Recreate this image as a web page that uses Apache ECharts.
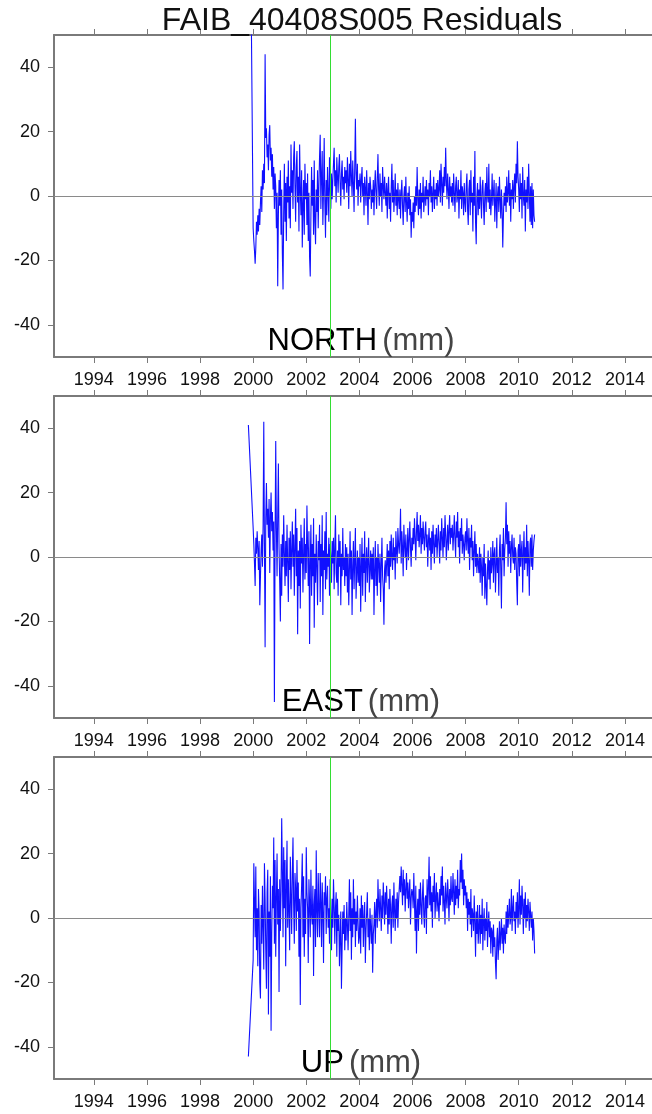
<!DOCTYPE html>
<html>
<head>
<meta charset="utf-8">
<script src="https://cdn.jsdelivr.net/npm/echarts@6/dist/echarts.min.js"></script>
<style>
html,body{margin:0;padding:0;background:#fff;}
#chart{width:652px;height:1114px;}
</style>
</head>
<body>
<div id="chart"></div>
<script>
// ---------------- DATA ----------------
const chartTitle = 'FAIB_40408S005 Residuals';
const panelNames = ['NORTH', 'EAST', 'UP'];
const unitLabel = '(mm)';
const xTickValues = [1994, 1996, 1998, 2000, 2002, 2004, 2006, 2008, 2010, 2012, 2014];
const yTickValues = [-40, -20, 0, 20, 40];
const eventYear = 2002.89;          // green vertical line
const sampleStart = 2000.0;         // regular sampling grid of the residuals
const sampleStep = 0.025;

// first (isolated) observation of each component: [year, mm]
const northFirst = [1999.93, 56];
const eastFirst = [1999.82, 41];
const upFirst = [1999.82, -43];

const northValues = [
  -10, -14, -17, -21, -16, -8, -12, -6, -11, -4, -9, -2, 3, -5, 8, 2, 10, 4, 44, 18,
  21, 12, 16, 8, 19, 22, 11, 15, 6, 13, 2, 9, -4, 7, 3, -10, 1, -28, -6, 5,
  -3, 8, -12, 2, -18, -29, -5, 10, -8, 4, -14, 6, -2, 11, -7, 3, -10, 16, 1, 8,
  -4, 12, 17, 3, -8, 9, 14, -2, 6, -11, 16, 2, -6, 8, -16, -3, 5, -12, 10, -1,
  4, -9, 7, -14, 1, -19, -25, -6, 9, -3, 5, -12, 11, -8, -15, 2, -5, 8, -10, 3,
  12, 19, -4, 6, 14, -9, 2, 18, -2, -13, 5, -6, 9, 1, -8, 12, 3, -4, 7, -1,
  5, 10, 15, 3, 8, -2, 12, 6, 1, 9, 13, 4, -3, 7, 11, 2, 6, -1, 9, 4,
  8, 1, 12, 5, -4, 10, 3, 14, 6, 0, 11, 4, -5, 9, 24, 7, 2, 10, -3, 5,
  3, 7, -2, 5, 9, 0, 4, -6, 6, 2, -3, 8, 1, -9, 4, -1, 6, 3, -4, 2,
  -2, 5, -6, 3, 8, 1, -4, 6, 13, 2, -3, 7, 0, 4, -5, 9, 3, -1, 6, 1,
  -3, 4, -7, 2, 6, -4, 1, -8, 3, 10, -2, 5, -5, 0, 7, -3, 2, -6, 4, -1,
  -4, 2, -7, 1, 5, -3, -9, 0, 3, -5, 6, -2, -8, 1, -4, 3, -6, -1, -13, -5,
  -8, -2, -10, 0, -5, 3, -3, 9, -1, -6, 2, -4, 4, -7, 1, -2, 6, -5, -1, 3,
  -3, 5, -1, 2, -6, 4, 0, 8, -2, 3, -5, 1, 6, -4, 2, -1, 4, -3, 5, 0,
  2, 8, -2, 10, 4, -3, 6, 1, 9, 3, 15, 5, -1, 7, 2, -4, 6, 0, 3, -2,
  4, -3, 7, 1, -5, 3, 6, -2, 0, 5, -7, 2, -1, 8, -4, 3, 1, -6, 4, -2,
  -5, 3, 7, -4, -9, 2, 5, -6, 8, -2, 1, -11, 6, -3, 14, -8, -15, 0, 4, -6,
  2, -4, 6, -1, -7, 3, 5, -3, -9, 1, 4, -5, 9, 0, -2, 10, -4, 2, -6, -1,
  7, -3, 1, 5, -8, -2, 4, -10, 0, 3, -5, 6, -1, -7, 2, -4, -16, -6, 1, -3,
  3, -5, 6, -2, 1, 8, -3, 4, -8, 2, -1, 5, -4, 3, 7, -2, 10, 4, 17, 6,
  2, -5, 7, -1, 4, -7, 9, 0, -3, 5, -11, 2, -2, 6, -4, 10, 1, -8, 3, -9,
  4, -10, 2, -6, -8
];

const eastValues = [
  9, 4, -2, -9, 6, 1, 8, 3, -4, 5, -15, -6, 2, 7, -3, 10, 42, 4, -28, 12,
  23, 10, 15, 6, 18, -5, 12, 20, 8, 14, 2, 11, -45, 5, 36, 9, -6, 13, 29, 3,
  -8, -20, 4, -12, 7, -3, 13, 1, -9, 5, -6, 10, -2, -14, 6, -4, 8, -10, 2, 11,
  -3, 7, -12, 3, 15, -6, 9, -24, 2, -9, 5, -16, 10, -2, 6, -11, 1, 12, -7, 4,
  -5, 16, 3, -9, 8, -27, -2, 10, -12, 4, -6, 12, -22, 1, -8, 7, -3, -15, 5, -1,
  10, -14, 4, -6, 13, -18, 2, -4, 8, -10, 14, -7, 1, -3, 6, -12, 4, 0, -8, 5,
  -2, 6, -10, 3, 13, -5, -8, 2, -12, 7, -3, 5, -15, 1, -6, 9, -4, 0, -9, 4,
  -6, 3, -11, 1, -15, -4, 8, -7, 2, -18, -3, 5, -10, -1, 9, -13, -5, 2, -8, 0,
  -9, 4, -17, -3, 6, -12, 1, -5, 8, -14, -2, 3, -8, -1, 6, -11, -4, 2, -7, 1,
  -7, 3, -18, -4, 5, -9, 0, -12, 4, -2, -8, 1, -14, -3, 6, -6, -10, -21, -4, -1,
  -8, -2, 4, -6, 2, -10, 5, -3, 7, 0, -4, 6, -1, 3, -7, 8, 2, -2, 9, 4,
  1, 6, 15, -2, 8, 3, -6, 10, 4, 0, 7, -4, 2, 9, -1, 5, 11, 3, -3, 6,
  2, 9, 4, 12, 6, -1, 8, 14, 5, 10, 3, 7, 13, 1, 9, 4, 11, 6, 2, 8,
  11, 3, 7, -3, 5, 9, 2, 6, -4, 8, 1, 10, 4, -2, 7, 3, 9, 0, 5, 10,
  4, -2, 8, 2, 12, 6, 0, 9, 3, 13, 7, -1, 5, 10, 2, 8, 13, 4, 9, 6,
  10, 2, 7, 13, 5, 0, 11, 6, 14, 3, 8, -2, 9, 5, 12, 1, 7, 4, -1, 6,
  8, 2, 12, 5, 1, 9, -4, 6, 3, 10, -1, 5, -6, 2, 8, -3, 4, -5, 1, -2,
  -5, 3, -8, 1, -3, -12, 0, -6, 4, -13, -2, -9, -15, -4, 2, -7, -1, -10, 3, -5,
  -2, 5, -8, 1, 3, -11, -3, 6, -5, 0, -12, 2, 7, -4, -16, 4, -1, 9, -6, 2,
  6, 17, 4, 10, -3, 8, 1, 5, -5, 3, 7, 0, -2, 6, -4, 3, 1, -8, -15, 2,
  4, -6, 7, -3, 2, 5, -11, 1, 8, -4, 3, -2, 10, -6, 5, -1, -12, 4, 6, -3,
  7, -4, 2, 5, 7
];

const upValues = [
  -13, 17, 5, -6, 16, -10, 3, -15, 9, 2, -20, -25, 4, -8, 10, -3, -16, 17, 6, -10,
  -22, 8, 15, -30, 2, -12, 13, -35, -5, 10, 3, 25, -8, 18, -12, 6, 20, -2, 9, -23,
  12, -4, 8, 31, 15, -6, 22, 3, 18, -15, 10, 24, -3, 12, 2, -10, 19, 7, -5, 14,
  25, 4, -8, 14, 9, -4, 18, 2, 11, -12, 6, -27, 3, 10, 20, -6, 13, -12, 6, -5,
  22, 8, 3, -14, 12, 5, -6, 15, 1, -2, 10, -18, 4, 9, -9, 21, 2, -6, 14, 3,
  -6, 14, 5, -9, 11, 2, -14, 8, 4, 13, -5, 6, 10, -3, 3, -8, 12, 0, -10, 6,
  -3, 12, 4, -8, 3, 8, -12, 6, -4, 1, -15, -6, 2, -22, -9, 2, -5, 4, -10, 0,
  -7, 5, -2, -10, 1, 12, -4, 8, -13, 3, -6, 12, -2, 6, -9, 2, -4, 7, -1, -8,
  -6, 3, -11, 7, -3, 4, -9, 0, 5, -14, -4, 2, 8, -6, 0, -10, 3, -3, -8, 1,
  -17, -5, -2, 5, -8, 2, 6, -3, 12, 4, -1, 9, 3, -4, 7, 0, 11, 5, -2, 8,
  1, 10, 4, -5, 6, -2, 9, 3, -8, 4, 7, -3, 11, 2, -4, 6, 0, 8, -3, 5,
  5, 13, 8, 16, 10, 4, 15, 7, 12, 2, 9, 14, 6, 11, 3, 8, 12, -2, 6, 9,
  8, 3, 14, 5, -4, 10, -11, 2, 6, -4, 9, 1, 11, 4, -2, 7, 12, 1, -3, 6,
  7, -5, 12, 3, 9, 19, 4, 13, 2, 8, -3, 10, 5, 14, 0, 6, 11, 2, 8, 4,
  -1, 9, 4, 13, 7, 16, 2, 10, 5, -2, 11, 6, 3, 12, 7, -1, 9, 4, 13, 6,
  5, 14, 8, 1, 12, 4, 10, 6, 15, 3, 9, 7, 18, 11, 20, 9, 15, 4, 12, 7,
  10, 3, 8, -4, 6, 1, 5, -2, 9, -6, 3, 1, -4, 7, -1, -12, 2, -5, 4, -8,
  -3, 4, -8, 1, -5, 6, -10, -1, 3, -7, 0, -4, 5, -9, -2, 2, -6, -1, -11, -3,
  -4, -12, -2, -9, -6, -14, -19, -7, -3, -13, -8, -1, -10, -5, 0, -8, -3, -11, -2, -6,
  -8, 2, -5, 4, -3, 1, 6, -2, 0, 9, -4, 3, 7, -1, 2, -5, 5, 0, 8, -3,
  3, 12, -2, 7, 1, 10, 4, -5, 6, 0, 8, -3, 4, -1, 6, 2, -4, 5, 1, -3,
  2, -7, 0, -4, -11
];

// ---------------- BUILD ----------------
function buildSeriesData(first, values) {
  const out = [first.slice()];
  values.forEach(function (v, i) {
    out.push([+(sampleStart + i * sampleStep).toFixed(4), v]);
  });
  return out;
}
const panelData = [
  buildSeriesData(northFirst, northValues),
  buildSeriesData(eastFirst, eastValues),
  buildSeriesData(upFirst, upValues)
];

const FONT = "'Liberation Sans', Arial, Helvetica, sans-serif";
const FRAME = '#7a7a7a';
const panelTops = [35, 396, 757];
const panelHeight = 322;
const gridLeft = 54, gridRight = 0;
const xMin = 1992.5, xMax = 2015.02;

const grids = [], xAxes = [], yAxes = [], series = [], titles = [];

titles.push({
  text: chartTitle,
  left: 357, top: 0, textAlign: 'center',
  textStyle: { fontFamily: FONT, fontSize: 32, fontWeight: 'normal', color: '#111' }
});

panelTops.forEach(function (top, p) {
  grids.push({ left: gridLeft, right: gridRight, top: top, height: panelHeight, containLabel: false });
  xAxes.push({
    type: 'value', gridIndex: p, position: 'bottom', min: xMin, max: xMax,
    axisLine: { show: true, onZero: false, lineStyle: { color: FRAME, width: 2 } },
    axisTick: { show: true, inside: false, length: 6, customValues: xTickValues, lineStyle: { color: FRAME, width: 1 } },
    axisLabel: { show: true, customValues: xTickValues, margin: 14, fontFamily: FONT, fontSize: 18, color: '#111',
      formatter: function (v) { return String(v); } },
    splitLine: { show: false }
  });
  xAxes.push({
    type: 'value', gridIndex: p, position: 'top', min: xMin, max: xMax,
    axisLine: { show: true, onZero: false, lineStyle: { color: FRAME, width: 2 } },
    axisTick: { show: true, inside: false, length: 6, customValues: xTickValues, lineStyle: { color: FRAME, width: 1 } },
    axisLabel: { show: false },
    splitLine: { show: false }
  });
  yAxes.push({
    type: 'value', gridIndex: p, position: 'left', min: -50, max: 50,
    axisLine: { show: true, onZero: false, lineStyle: { color: FRAME, width: 2 } },
    axisTick: { show: true, inside: false, length: 6, customValues: yTickValues, lineStyle: { color: FRAME, width: 1 } },
    axisLabel: { show: true, customValues: yTickValues, margin: 14, fontFamily: FONT, fontSize: 18, color: '#111' },
    splitLine: { show: false }
  });
  series.push({
    type: 'line', xAxisIndex: p * 2, yAxisIndex: p,
    data: panelData[p], showSymbol: false, symbol: 'none', clip: true,
    lineStyle: { color: '#1010ff', width: 1.1 },
    animation: false,
    markLine: {
      silent: true, symbol: 'none', animation: false,
      label: { show: false },
      data: [
        { yAxis: 0, lineStyle: { color: '#8a8a8a', width: 1, type: 'solid' } },
        { xAxis: eventYear, lineStyle: { color: '#33dd33', width: 1, type: 'solid' } }
      ]
    },
    z: 2
  });
  titles.push({
    text: '{a|' + panelNames[p] + '} {b|' + unitLabel + '}',
    left: 356, top: top + panelHeight - 36, textAlign: 'center',
    textStyle: {
      fontWeight: 'normal',
      rich: {
        a: { fontFamily: FONT, fontSize: 31, fontWeight: 'normal', color: '#000' },
        b: { fontFamily: FONT, fontSize: 31, fontWeight: 'normal', color: '#444' }
      }
    },
    z: 1
  });
});

const chart = echarts.init(document.getElementById('chart'), null, { renderer: 'canvas' });
chart.setOption({
  animation: false,
  backgroundColor: '#ffffff',
  title: titles,
  grid: grids,
  xAxis: xAxes,
  yAxis: yAxes,
  series: series
});
</script>
</body>
</html>
